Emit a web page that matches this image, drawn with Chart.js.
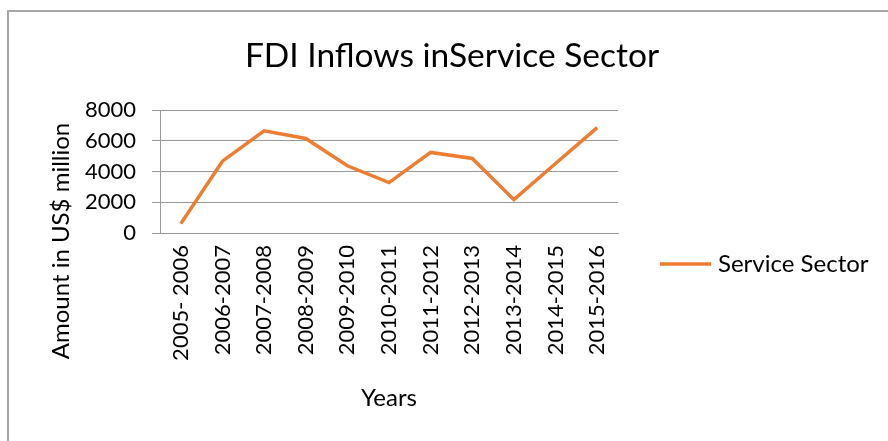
<!DOCTYPE html>
<html>
<head>
<meta charset="utf-8">
<script src="https://cdn.jsdelivr.net/npm/chart.js@4/dist/chart.umd.min.js"></script>
<style>
  html, body { margin: 0; padding: 0; background: #ffffff; }
  #wrap { width: 888px; height: 441px; }
</style>
</head>
<body>
<div id="wrap"><canvas id="c" width="888" height="441"></canvas></div>
<script>
// Fiscal years on the category axis
const years = [
  '2005- 2006', '2006-2007', '2007-2008', '2008-2009', '2009-2010', '2010-2011',
  '2011-2012', '2012-2013', '2013-2014', '2014-2015', '2015-2016'
];
// FDI inflows into the service sector, US$ million
const serviceSector = [610, 4670, 6650, 6150, 4370, 3280, 5240, 4850, 2170, 4520, 6850];
// Value axis ticks
const yTicks = [0, 2000, 4000, 6000, 8000];

const chartTitle = 'FDI Inflows inService Sector';
const yTitle = 'Amount in US$ million';
const xTitle = 'Years';
const seriesName = 'Service Sector';

const FONT = 'Lato';
const ORANGE = '#ED7D31';
const GRID = '#989898';

// Frame, titles and legend drawn around the plot
const decorations = {
  id: 'decorations',
  beforeDraw(chart) {
    const ctx = chart.ctx;
    ctx.save();
    ctx.fillStyle = '#ffffff';
    ctx.fillRect(0, 0, chart.width, chart.height);
    ctx.strokeStyle = '#a6a6a6';
    ctx.lineWidth = 2;
    ctx.strokeRect(8, 11, chart.width + 20, chart.height + 20);
    ctx.restore();
  },
  afterDraw(chart) {
    const ctx = chart.ctx;
    ctx.save();
    ctx.fillStyle = '#000000';
    // chart title
    ctx.font = '33.5px ' + FONT;
    ctx.textAlign = 'center';
    ctx.textBaseline = 'alphabetic';
    ctx.fillText(chartTitle, 452, 67);
    // x-axis title
    ctx.font = '24px ' + FONT;
    ctx.textBaseline = 'middle';
    ctx.fillText(xTitle, 389, 398);
    // y-axis title
    ctx.save();
    ctx.translate(61, 241);
    ctx.rotate(-Math.PI / 2);
    ctx.fillText(yTitle, 0, 0);
    ctx.restore();
    // legend
    ctx.strokeStyle = ORANGE;
    ctx.lineWidth = 3.5;
    ctx.beginPath();
    ctx.moveTo(660, 264);
    ctx.lineTo(711, 264);
    ctx.stroke();
    ctx.textAlign = 'left';
    ctx.font = '24px ' + FONT;
    ctx.fillText(chart.data.datasets[0].label, 718, 264);
    ctx.restore();
  }
};

new Chart(document.getElementById('c'), {
  type: 'line',
  data: {
    labels: years,
    datasets: [{
      label: seriesName,
      data: serviceSector,
      borderColor: ORANGE,
      backgroundColor: ORANGE,
      borderWidth: 3.5,
      pointRadius: 0,
      tension: 0,
      fill: false
    }]
  },
  options: {
    responsive: false,
    animation: false,
    devicePixelRatio: 1,
    layout: { padding: { left: 0, right: 270, top: 110, bottom: 78 } },
    plugins: {
      legend: { display: false },
      title: { display: false },
      tooltip: { enabled: false }
    },
    scales: {
      x: {
        type: 'category',
        offset: true,
        grid: { display: false },
        border: { display: true, color: GRID, width: 1 },
        ticks: {
          color: '#000000',
          font: { family: FONT, size: 22 },
          minRotation: 90,
          maxRotation: 90,
          autoSkip: false,
          padding: 4
        },
        afterFit(scale) { scale.height = 130; }
      },
      y: {
        min: 0,
        max: 8000,
        afterBuildTicks(scale) { scale.ticks = yTicks.map(v => ({ value: v })); },
        grid: { color: GRID, lineWidth: 1, tickLength: 8, drawTicks: true },
        border: { display: true, color: GRID, width: 1 },
        ticks: {
          color: '#000000',
          font: { family: FONT, size: 22 },
          padding: 16,
          callback: (v) => String(v)
        },
        afterFit(scale) { scale.width = 160; }
      }
    }
  },
  plugins: [decorations]
});
</script>
</body>
</html>
